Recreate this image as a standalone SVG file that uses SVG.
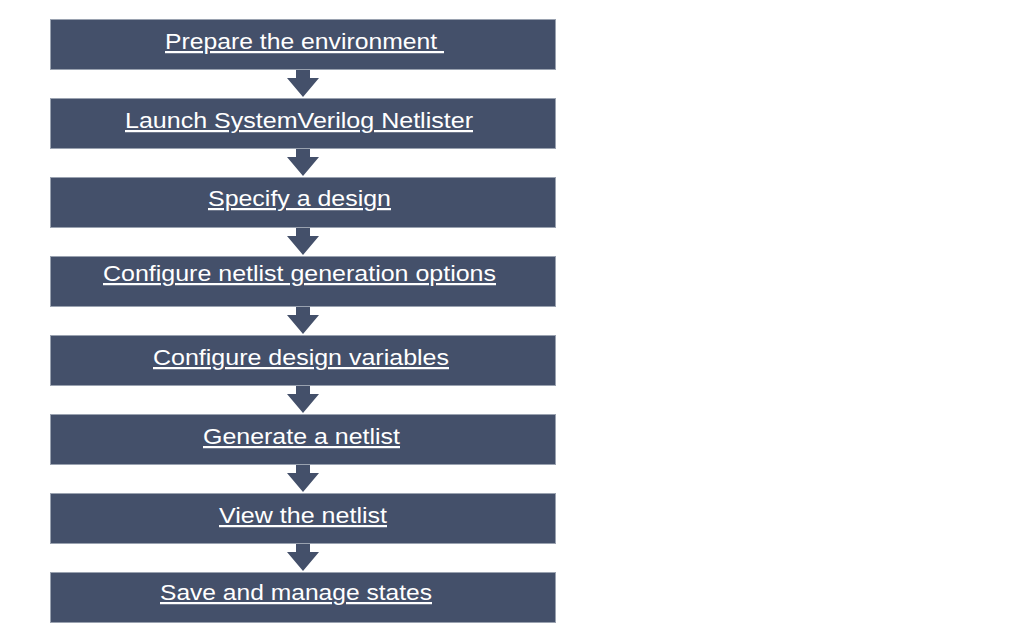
<svg xmlns="http://www.w3.org/2000/svg" width="1013" height="635" viewBox="0 0 1013 635">
<style>
.box{fill:#44506a;stroke:#9aa2b0;stroke-width:1}
.lbl{font-family:"Liberation Sans",Arial,sans-serif;font-size:22.3px;fill:#ffffff;text-decoration:underline;text-anchor:middle}
.arr{fill:#44506a}
</style>
<rect width="1013" height="635" fill="#ffffff"/>
<g id="connectors">
<path class="arr" d="M296,70 H310 V78 H319 L303,97 L287,78 H296 Z"/>
<path class="arr" d="M296,149 H310 V157 H319 L303,176 L287,157 H296 Z"/>
<path class="arr" d="M296,228 H310 V236 H319 L303,255 L287,236 H296 Z"/>
<path class="arr" d="M296,307 H310 V315 H319 L303,334 L287,315 H296 Z"/>
<path class="arr" d="M296,386 H310 V394 H319 L303,413 L287,394 H296 Z"/>
<path class="arr" d="M296,465 H310 V473 H319 L303,492 L287,473 H296 Z"/>
<path class="arr" d="M296,544 H310 V552 H319 L303,571 L287,552 H296 Z"/>
</g>
<g id="n1"><rect class="box" x="50.5" y="19.5" width="505" height="50"/><text class="lbl" x="304.5" y="49" textLength="279" lengthAdjust="spacingAndGlyphs" xml:space="preserve">Prepare the environment </text></g>
<g id="n2"><rect class="box" x="50.5" y="98.5" width="505" height="50"/><text class="lbl" x="299" y="128" textLength="348" lengthAdjust="spacingAndGlyphs">Launch SystemVerilog Netlister</text></g>
<g id="n3"><rect class="box" x="50.5" y="177.5" width="505" height="50"/><text class="lbl" x="299.5" y="206" textLength="183" lengthAdjust="spacingAndGlyphs">Specify a design</text></g>
<g id="n4"><rect class="box" x="50.5" y="256.5" width="505" height="50"/><text class="lbl" x="299.5" y="281" textLength="393" lengthAdjust="spacingAndGlyphs">Configure netlist generation options</text></g>
<g id="n5"><rect class="box" x="50.5" y="335.5" width="505" height="50"/><text class="lbl" x="301" y="365" textLength="296" lengthAdjust="spacingAndGlyphs">Configure design variables</text></g>
<g id="n6"><rect class="box" x="50.5" y="414.5" width="505" height="50"/><text class="lbl" x="301.5" y="444" textLength="197" lengthAdjust="spacingAndGlyphs">Generate a netlist</text></g>
<g id="n7"><rect class="box" x="50.5" y="493.5" width="505" height="50"/><text class="lbl" x="303" y="523" textLength="168" lengthAdjust="spacingAndGlyphs">View the netlist</text></g>
<g id="n8"><rect class="box" x="50.5" y="572.5" width="505" height="50"/><text class="lbl" x="296" y="600" textLength="272" lengthAdjust="spacingAndGlyphs">Save and manage states</text></g>
</svg>
